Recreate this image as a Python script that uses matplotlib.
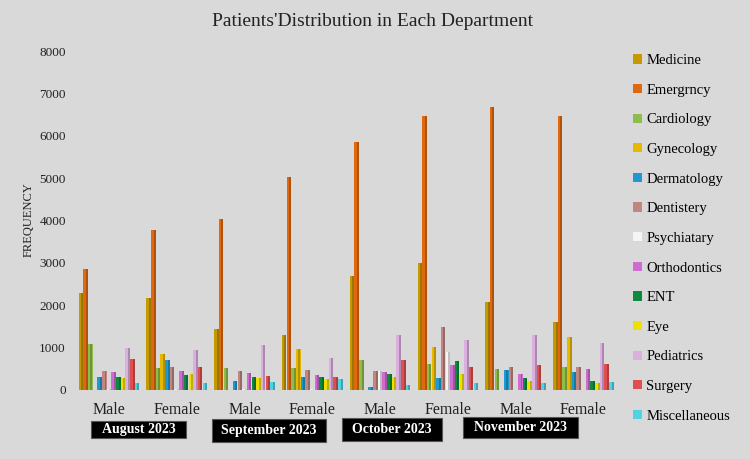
import matplotlib
matplotlib.use("Agg")
import matplotlib.pyplot as plt
import numpy as np
from matplotlib.patches import Rectangle
from matplotlib.colors import to_rgb

groups = ["Male", "Female", "Male", "Female", "Male", "Female", "Male", "Female"]
months = ["August 2023", "September 2023", "October 2023", "November 2023"]
departments = ["Medicine", "Emergrncy", "Cardiology", "Gynecology", "Dermatology",
               "Dentistery", "Psychiatary", "Orthodontics", "ENT", "Eye",
               "Pediatrics", "Surgery", "Miscellaneous"]

medicine     = [2280, 2160, 1435, 1295, 2690, 3005, 2065, 1610]
emergency    = [2845, 3765, 4040, 5020, 5845, 6470, 6690, 6455]
cardiology   = [1095, 510, 525, 525, 705, 605, 495, 535]
gynecology   = [0, 845, 0, 965, 0, 1020, 0, 1255]
dermatology  = [315, 705, 220, 315, 60, 275, 470, 430]
dentistry    = [455, 550, 455, 470, 455, 1490, 550, 535]
psychiatry   = [25, 30, 25, 25, 445, 900, 0, 0]
orthodontics = [430, 445, 390, 355, 430, 590, 370, 495]
ent          = [315, 355, 300, 300, 370, 690, 290, 210]
eye          = [290, 375, 290, 250, 300, 375, 220, 155]
pediatrics   = [980, 940, 1060, 760, 1295, 1175, 1295, 1120]
surgery      = [720, 535, 335, 315, 705, 550, 590, 610]
misc         = [155, 170, 180, 260, 120, 155, 175, 195]

series = [medicine, emergency, cardiology, gynecology, dermatology, dentistry,
          psychiatry, orthodontics, ent, eye, pediatrics, surgery, misc]
colors = ["#c49a00", "#e0690f", "#8fbd4c", "#e8b800", "#1f9ad0", "#c08682",
          "#f4f4f4", "#cf6ccf", "#0e8a3e", "#f0e000", "#dbb0df", "#df4f50", "#4fd3e2"]

bg = "#d9d9d9"
fig = plt.figure(figsize=(7.5, 4.59), dpi=100, facecolor=bg)
W, H = 750, 459
ax = fig.add_axes([70 / W, 1 - 390 / H, 552 / W, 339 / H], facecolor=bg)

x = np.arange(len(groups))
w = 0.069
for j, (vals, c) in enumerate(zip(series, colors)):
    pos = x + (j - 6) * w
    rgb = np.array(to_rgb(c))
    dark = tuple(rgb * 0.78)
    ax.bar(pos, vals, width=w * 0.97, color=c, edgecolor="none", label=departments[j], zorder=2)
    ax.bar(pos + w * 0.26, vals, width=w * 0.42, color=dark, edgecolor="none", zorder=3)

ax.set_xlim(-0.575, 7.57)
ax.set_ylim(0, 8000)
ax.set_yticks(np.arange(0, 8001, 1000))
ax.set_xticks(x)
ax.set_xticklabels(groups, family="Liberation Serif", fontsize=11.5)
for lab in ax.get_yticklabels():
    lab.set_family("Liberation Serif")
    lab.set_fontsize(9.5)
ax.tick_params(axis="both", length=0, colors="#222222")
ax.tick_params(axis="y", pad=3)
ax.tick_params(axis="x", pad=9)
for s in ax.spines.values():
    s.set_visible(False)

ax.set_ylabel("FREQUENCY", family="Liberation Serif", fontsize=9, color="#222222")
ax.yaxis.set_label_coords(-35 / 552, (390 - 220) / 339)

fig.text(373 / W, 1 - 21 / H, "Patients'Distribution in Each Department", ha="center", va="center",
         family="Liberation Serif", fontsize=14, color="#222222")

# month boxes
boxes = [(91, 421, 95, 17), (212, 419, 114, 23), (342, 418, 100, 23), (463, 417, 115, 21)]
for (bx, by, bw, bh), m in zip(boxes, months):
    fig.patches.append(Rectangle((bx / W, 1 - (by + bh) / H), bw / W, bh / H,
                                 transform=fig.transFigure, facecolor="black", edgecolor="#555555",
                                 lw=0.8))
    fig.text((bx + bw / 2) / W, 1 - (by + bh / 2) / H, m, ha="center", va="center",
             family="Liberation Serif", fontsize=10, fontweight="bold", color="white")

handles, labels = ax.get_legend_handles_labels()
leg = fig.legend(handles, labels, loc="upper left", bbox_to_anchor=(620 / W, 1 - 41 / H),
                 frameon=False, prop={"family": "Liberation Serif", "size": 10.5},
                 handlelength=0.6, handleheight=0.6, handletextpad=0.3, labelspacing=1.14)

fig.savefig("out.png", dpi=100, facecolor=bg)
